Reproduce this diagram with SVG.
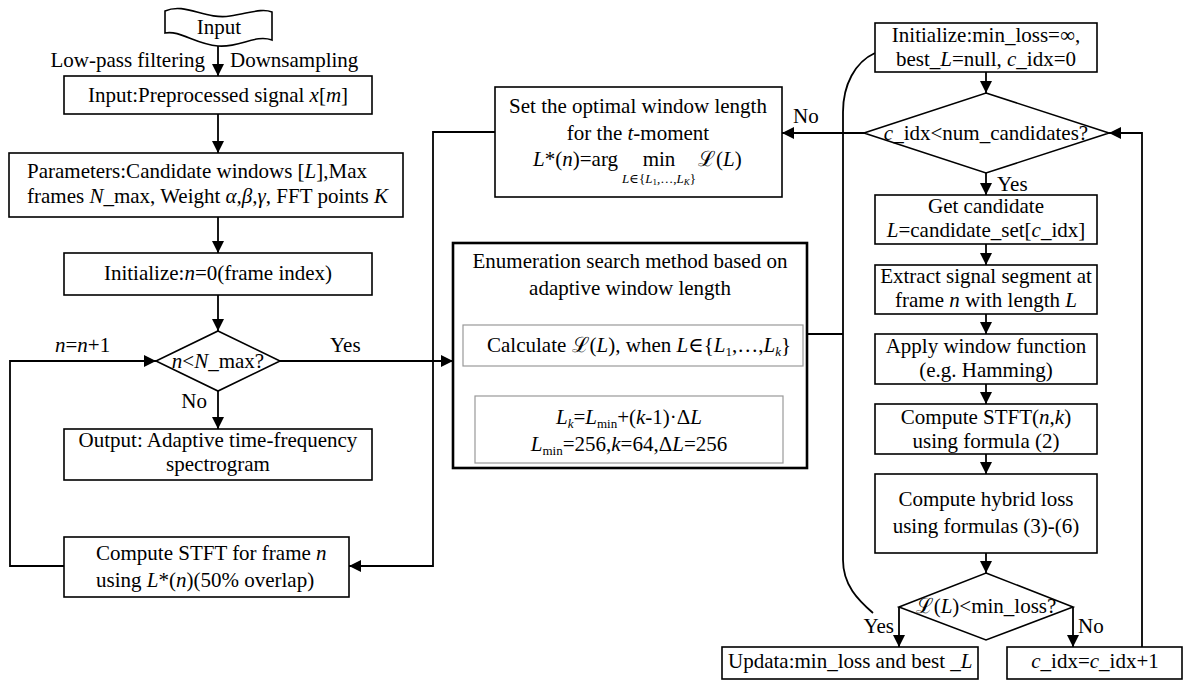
<svg xmlns="http://www.w3.org/2000/svg" width="1183" height="680" viewBox="0 0 1183 680">
<style>
.t{font-family:"Liberation Serif","Times New Roman","DejaVu Serif",serif;font-size:21px;fill:#000}
.c{text-anchor:middle}
.e{text-anchor:end}
.i{font-style:italic}
.s{font-size:13px}
.box{fill:#fff;stroke:#000;stroke-width:1.6}
.gbox{fill:#fff;stroke:#999;stroke-width:1.2}
.ln{fill:none;stroke:#000;stroke-width:1.8}
.ar{marker-end:url(#ah)}
</style>
<defs>
<marker id="ah" markerUnits="userSpaceOnUse" markerWidth="12" markerHeight="12" refX="12" refY="6" orient="auto">
<path d="M0,0 L12,6 L0,12 z" fill="#000"/>
</marker>
</defs>
<rect width="1183" height="680" fill="#fff"/>

<g id="connectors">
<path class="ln ar" d="M218,46 L218,76"/>
<path class="ln ar" d="M218,114 L218,153"/>
<path class="ln ar" d="M218,217 L218,253"/>
<path class="ln ar" d="M218,295 L218,331"/>
<path class="ln ar" d="M218,391 L218,429"/>
<path class="ln ar" d="M64,566 L10,566 L10,361 L156,361"/>
<path class="ln ar" d="M280,361 L453,361"/>
<path class="ln ar" d="M495,132 L433,132 L433,566 L349,566"/>
<path class="ln ar" d="M864,133 L782,133"/>
<path class="ln ar" d="M608,366 L608,396"/>
<path class="ln ar" d="M656,396 L656,366"/>
<path class="ln" d="M807,334 L843,334"/>
<path class="ln" d="M875,53 C855,62 843,85 843,112 L843,560 C843,585 858,600 873,613"/>
<path class="ln ar" d="M986,72 L986,93"/>
<path class="ln ar" d="M986,173 L986,195"/>
<path class="ln ar" d="M986,244 L986,265"/>
<path class="ln ar" d="M986,314 L986,334"/>
<path class="ln ar" d="M986,384 L986,404"/>
<path class="ln ar" d="M986,454 L986,474"/>
<path class="ln ar" d="M986,553 L986,573"/>
<path class="ln ar" d="M899,607 L899,647"/>
<path class="ln ar" d="M1073,607 L1073,647"/>
<path class="ln ar" d="M1142,647 L1142,133 L1109,133"/>
<text class="t e" x="205" y="67">Low-pass filtering</text>
<text class="t" x="230" y="67">Downsampling</text>
<text class="t" x="55" y="352"><tspan class="i">n</tspan>=<tspan class="i">n</tspan>+1</text>
<text class="t" x="330" y="352">Yes</text>
<text class="t e" x="207" y="408">No</text>
<text class="t" x="793" y="123">No</text>
<text class="t" x="997" y="191">Yes</text>
<text class="t e" x="894" y="633">Yes</text>
<text class="t" x="1078" y="633">No</text>
</g>

<g id="input">
<path class="box" d="M165,11 C185,2 205,20 230,16 C250,13 262,8 272,12 L272,40 C255,34 240,48 218,46 C195,44 180,30 165,33 Z"/>
<text class="t c" x="219" y="34">Input</text>
</g>

<g id="preprocessed">
<rect class="box" x="64" y="76" width="308" height="38"/>
<text class="t c" x="218" y="102">Input:Preprocessed signal <tspan class="i">x</tspan>[<tspan class="i">m</tspan>]</text>
</g>

<g id="parameters">
<rect class="box" x="9" y="153" width="394" height="64"/>
<text class="t" x="27" y="178">Parameters:Candidate windows [<tspan class="i">L</tspan>],Max</text>
<text class="t" x="27" y="203">frames <tspan class="i">N</tspan>_max, Weight <tspan class="i">α,β,γ</tspan>, FFT points <tspan class="i">K</tspan></text>
</g>

<g id="init-n">
<rect class="box" x="64" y="253" width="308" height="42"/>
<text class="t c" x="218" y="280">Initialize:<tspan class="i">n</tspan>=0(frame index)</text>
</g>

<g id="cond-n">
<path class="box" d="M218,331 L280,361 L218,391 L156,361 Z"/>
<text class="t c" x="218" y="368"><tspan class="i">n</tspan>&lt;<tspan class="i">N</tspan>_max?</text>
</g>

<g id="output">
<rect class="box" x="64" y="429" width="308" height="51"/>
<text class="t c" x="218" y="447">Output: Adaptive time-frequency</text>
<text class="t c" x="218" y="471">spectrogram</text>
</g>

<g id="compute-stft-frame">
<rect class="box" x="64" y="537" width="285" height="60"/>
<text class="t" x="96" y="560">Compute STFT for frame <tspan class="i">n</tspan></text>
<text class="t" x="96" y="587">using <tspan class="i">L</tspan>*(<tspan class="i">n</tspan>)(50% overlap)</text>
</g>

<g id="set-optimal">
<rect class="box" x="495" y="87" width="287" height="110"/>
<text class="t c" x="638" y="113">Set the optimal window length</text>
<text class="t c" x="638" y="140">for the <tspan class="i">t</tspan>-moment</text>
<text class="t e" x="618" y="166"><tspan class="i">L</tspan>*(<tspan class="i">n</tspan>)=arg</text>
<text class="t c" x="659" y="166">min</text>
<text class="t" x="698" y="166">ℒ(<tspan class="i">L</tspan>)</text>
<text class="t c s" x="659" y="183"><tspan class="i">L</tspan>∈{<tspan class="i">L</tspan><tspan font-size="9" dy="2">1</tspan><tspan dy="-2">,…,</tspan><tspan class="i">L</tspan><tspan class="i" font-size="9" dy="2">K</tspan><tspan dy="-2">}</tspan></text>
</g>

<g id="enumeration">
<rect x="453" y="243" width="354" height="225" fill="#fff" stroke="#000" stroke-width="2.6"/>
<text class="t c" x="630" y="268">Enumeration search method based on</text>
<text class="t c" x="630" y="295">adaptive window length</text>
<rect class="gbox" x="463" y="325" width="340" height="41"/>
<text class="t" x="487" y="352">Calculate ℒ(<tspan class="i">L</tspan>), when <tspan class="i">L</tspan>∈{<tspan class="i">L</tspan><tspan font-size="13" dy="4">1</tspan><tspan dy="-4">,…,</tspan><tspan class="i">L</tspan><tspan class="i" font-size="13" dy="4">k</tspan><tspan dy="-4">}</tspan></text>
<rect class="gbox" x="475" y="396" width="308" height="67"/>
<text class="t c" x="629" y="424"><tspan class="i">L</tspan><tspan class="i" font-size="13" dy="4">k</tspan><tspan dy="-4">=</tspan><tspan class="i">L</tspan><tspan font-size="13" dy="4">min</tspan><tspan dy="-4">+(</tspan><tspan class="i">k</tspan>-1)·Δ<tspan class="i">L</tspan></text>
<text class="t c" x="629" y="451"><tspan class="i">L</tspan><tspan font-size="13" dy="4">min</tspan><tspan dy="-4">=256,</tspan><tspan class="i">k</tspan>=64,Δ<tspan class="i">L</tspan>=256</text>
</g>

<g id="init-loss">
<rect class="box" x="875" y="23" width="222" height="49"/>
<text class="t c" x="986" y="42">Initialize:min_loss=∞,</text>
<text class="t c" x="986" y="65.5">best_<tspan class="i">L</tspan>=null, <tspan class="i">c</tspan>_idx=0</text>
</g>

<g id="cond-cidx">
<path class="box" d="M986,93 L1109,133 L986,173 L864,133 Z"/>
<text class="t c" x="986" y="140"><tspan class="i">c</tspan>_idx&lt;num_candidates?</text>
</g>

<g id="get-candidate">
<rect class="box" x="875" y="195" width="222" height="49"/>
<text class="t c" x="986" y="213">Get candidate</text>
<text class="t c" x="986" y="237"><tspan class="i">L</tspan>=candidate_set[<tspan class="i">c</tspan>_idx]</text>
</g>

<g id="extract">
<rect class="box" x="875" y="265" width="222" height="49"/>
<text class="t c" x="986" y="283">Extract signal segment at</text>
<text class="t c" x="986" y="307">frame <tspan class="i">n</tspan> with length <tspan class="i">L</tspan></text>
</g>

<g id="apply-window">
<rect class="box" x="875" y="334" width="222" height="50"/>
<text class="t c" x="986" y="353">Apply window function</text>
<text class="t c" x="986" y="377">(e.g. Hamming)</text>
</g>

<g id="compute-stft">
<rect class="box" x="875" y="404" width="222" height="50"/>
<text class="t c" x="986" y="424">Compute STFT(<tspan class="i">n</tspan>,<tspan class="i">k</tspan>)</text>
<text class="t c" x="986" y="448">using formula (2)</text>
</g>

<g id="hybrid-loss">
<rect class="box" x="875" y="474" width="222" height="79"/>
<text class="t c" x="986" y="506">Compute hybrid loss</text>
<text class="t c" x="986" y="533">using formulas (3)-(6)</text>
</g>

<g id="cond-loss">
<path class="box" d="M986,573 L1073,607 L986,640 L899,607 Z"/>
<text class="t c" x="986" y="613">ℒ(<tspan class="i">L</tspan>)&lt;min_loss?</text>
</g>

<g id="update">
<rect class="box" x="722" y="647" width="256" height="32"/>
<text class="t" x="728" y="668">Updata:min_loss and best _<tspan class="i">L</tspan></text>
</g>

<g id="cidx-inc">
<rect class="box" x="1007" y="647" width="175" height="32"/>
<text class="t c" x="1095" y="668"><tspan class="i">c</tspan>_idx=<tspan class="i">c</tspan>_idx+1</text>
</g>
</svg>
